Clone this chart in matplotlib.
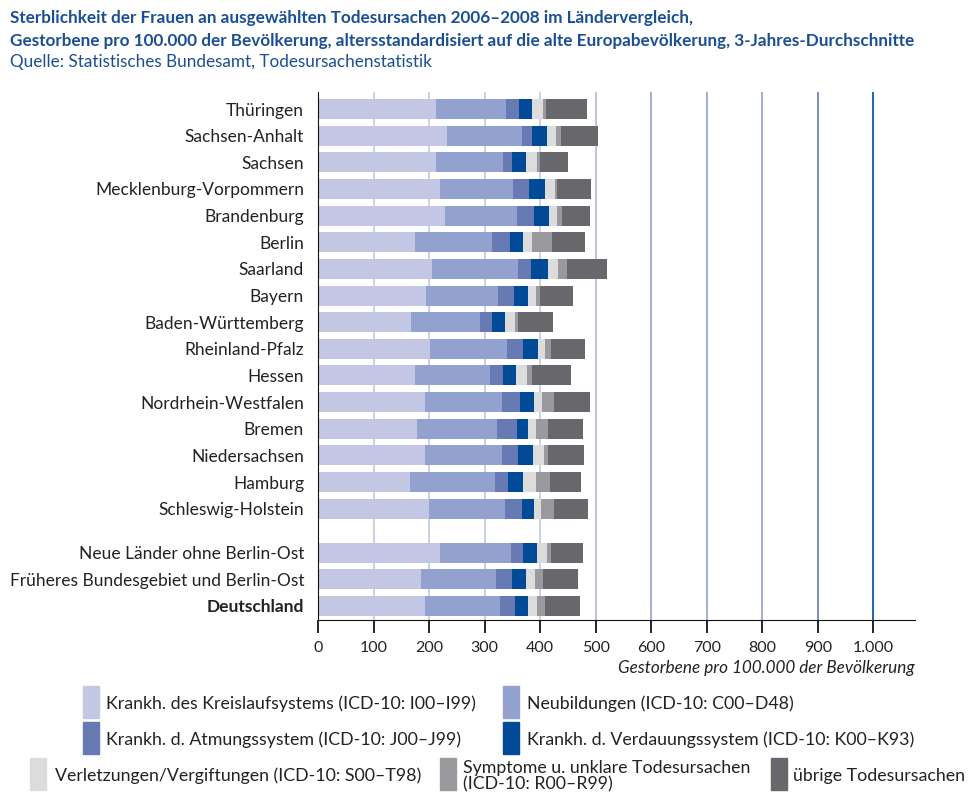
import matplotlib.pyplot as plt
import numpy as np
from matplotlib.patches import Rectangle

plt.rcParams['font.family'] = ['Lato', 'DejaVu Sans']

# data (Gestorbene pro 100.000, Frauen)
laender = ['Thüringen', 'Sachsen-Anhalt', 'Sachsen', 'Mecklenburg-Vorpommern',
           'Brandenburg', 'Berlin', 'Saarland', 'Bayern', 'Baden-Württemberg',
           'Rheinland-Pfalz', 'Hessen', 'Nordrhein-Westfalen', 'Bremen',
           'Niedersachsen', 'Hamburg', 'Schleswig-Holstein',
           'Neue Länder ohne Berlin-Ost', 'Früheres Bundesgebiet und Berlin-Ost',
           'Deutschland']
kreislauf = [213, 233, 212, 219, 228, 174, 206, 194, 168, 201, 174, 192, 179, 192, 165, 199, 219, 186, 192]
neubildungen = [126, 135, 122, 132, 130, 140, 155, 130, 124, 139, 135, 140, 144, 139, 153, 137, 128, 135, 135]
atmung = [23, 18, 16, 29, 31, 31, 22, 29, 22, 29, 25, 32, 36, 29, 25, 31, 23, 29, 27]
verdauung = [24, 27, 25, 29, 27, 25, 32, 25, 23, 27, 22, 25, 20, 27, 27, 22, 25, 25, 25]
verletzungen = [20, 16, 20, 18, 14, 16, 18, 14, 18, 13, 20, 14, 13, 20, 22, 13, 18, 16, 16]
symptome = [5, 9, 5, 4, 9, 36, 16, 7, 5, 11, 9, 22, 23, 7, 25, 23, 7, 14, 13]
uebrige = [74, 67, 51, 60, 51, 58, 72, 60, 63, 60, 70, 65, 63, 65, 56, 61, 58, 63, 63]

serien = [kreislauf, neubildungen, atmung, verdauung, verletzungen, symptome, uebrige]
farben = ['#c3c7e3', '#93a1ce', '#687ab4', '#004a98', '#dcdcdc', '#9a9a9e', '#68676c']
legende = ['Krankh. des Kreislaufsystems (ICD-10: I00–I99)',
           'Neubildungen (ICD-10: C00–D48)',
           'Krankh. d. Atmungssystem (ICD-10: J00–J99)',
           'Krankh. d. Verdauungssystem (ICD-10: K00–K93)',
           'Verletzungen/Vergiftungen (ICD-10: S00–T98)',
           'Symptome u. unklare Todesursachen\n(ICD-10: R00–R99)',
           'übrige Todesursachen']

W, H = 978, 806
fig = plt.figure(figsize=(W / 100, H / 100), dpi=100)
ax = fig.add_axes([318 / W, 1 - 620 / H, (915 - 318) / W, (620 - 92) / H])

# 16 Länder, dann eine Lücke, dann die drei Aggregate
ypos = np.array([i if i < 16 else i + 0.65 for i in range(len(laender))])

left = np.zeros(len(laender))
for werte, farbe in zip(serien, farben):
    ax.barh(ypos, werte, left=left, height=0.75, color=farbe, zorder=3)
    left += np.array(werte)

ax.set_xlim(0, 1075)
ax.set_ylim(ypos[-1] + 0.53, -0.64)
ax.set_yticks(ypos)
ax.set_yticklabels(laender, fontsize=12.5, color='#222222')
ax.get_yticklabels()[-1].set_fontweight('bold')
ax.tick_params(axis='y', length=0, pad=10)

ticks = np.arange(0, 1001, 100)
ax.set_xticks(ticks)
ax.set_xticklabels(['0', '100', '200', '300', '400', '500', '600', '700', '800', '900', '1.000'],
                   fontsize=11.5, color='#222222')
ax.tick_params(axis='x', length=9, width=1.2, pad=6)
ax.grid(axis='x', zorder=0, linewidth=1.2)
grid_farben = ['#222222', '#c3c7e3', '#c3c7e3', '#c3c7e3', '#c3c7e3', '#b0b8dc',
               '#93a1ce', '#93a1ce', '#93a1ce', '#687ab4', '#004a98']
for tick, c in zip(ax.xaxis.get_major_ticks(), grid_farben):
    tick.gridline.set_color(c)
    tick.tick1line.set_color(c)

for s in ['top', 'right']:
    ax.spines[s].set_visible(False)
ax.spines['left'].set_color('#111111')
ax.spines['bottom'].set_color('#111111')
ax.spines['left'].set_zorder(4)
ax.spines['bottom'].set_zorder(4)

fig.text(915 / W, 1 - 668 / H, 'Gestorbene pro 100.000 der Bevölkerung', ha='right', va='center',
         fontsize=12.3, style='italic', color='#222222')

# Titel
titel_farbe = '#1a4f93'
fig.text(10 / W, 1 - 18 / H, 'Sterblichkeit der Frauen an ausgewählten Todesursachen 2006–2008 im Ländervergleich,',
         fontsize=12.3, fontweight='bold', color=titel_farbe, va='center')
fig.text(10 / W, 1 - 41 / H, 'Gestorbene pro 100.000 der Bevölkerung, altersstandardisiert auf die alte Europabevölkerung, 3-Jahres-Durchschnitte',
         fontsize=12.3, fontweight='bold', color=titel_farbe, va='center')
fig.text(10 / W, 1 - 62 / H, 'Quelle: Statistisches Bundesamt, Todesursachenstatistik',
         fontsize=12.3, color=titel_farbe, va='center')

# Legende von Hand gesetzt
legend_pos = [(83, 686, 106), (503, 686, 527), (83, 722, 106), (503, 722, 527),
              (30, 758, 55), (440, 758, 463), (771, 758, 793)]
for (px, py, tx), farbe, text in zip(legend_pos, farben, legende):
    fig.add_artist(Rectangle((px / W, 1 - (py + 32) / H), 16 / W, 32 / H,
                             transform=fig.transFigure, color=farbe))
    fig.text(tx / W, 1 - (py + 18) / H, text, fontsize=12.8, color='#222222', va='center',
             linespacing=1.0)

fig.savefig('out.png', dpi=100)
